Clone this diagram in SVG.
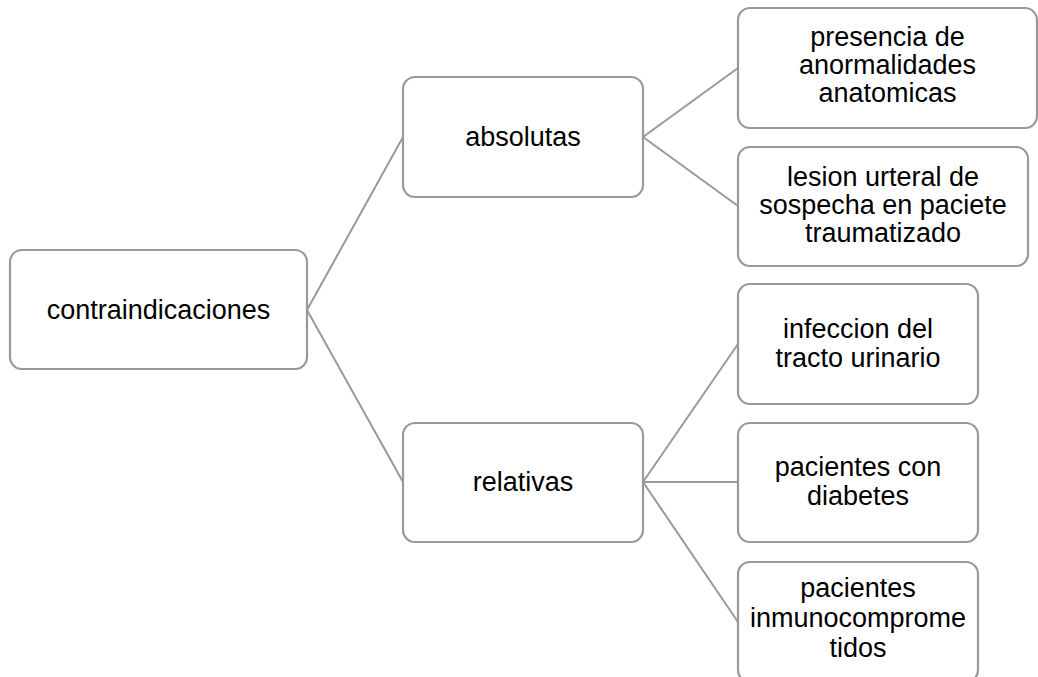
<svg xmlns="http://www.w3.org/2000/svg" width="1038" height="677" viewBox="0 0 1038 677">
  <style>
    .box { fill: #ffffff; stroke: #999999; stroke-width: 2.2; }
    .link { stroke: #999999; stroke-width: 2; fill: none; }
    .lbl { font-family: "Liberation Sans", Arial, sans-serif; font-size: 27px; fill: #000000; text-anchor: middle; }
  </style>
  <rect width="1038" height="677" fill="#ffffff"/>

  <g id="connectors">
    <line class="link" x1="307" y1="310" x2="403" y2="137"/>
    <line class="link" x1="307" y1="310" x2="403" y2="482"/>
    <line class="link" x1="643" y1="137" x2="738" y2="68"/>
    <line class="link" x1="643" y1="137" x2="738" y2="206"/>
    <line class="link" x1="643" y1="482" x2="738" y2="344"/>
    <line class="link" x1="643" y1="482" x2="738" y2="482"/>
    <line class="link" x1="643" y1="482" x2="738" y2="622"/>
  </g>

  <g id="contraindicaciones">
    <rect class="box" x="10" y="250" width="297" height="119" rx="12"/>
    <text class="lbl" x="158.5" y="319">contraindicaciones</text>
  </g>

  <g id="absolutas">
    <rect class="box" x="403" y="77" width="240" height="120" rx="12"/>
    <text class="lbl" x="523" y="146">absolutas</text>
  </g>

  <g id="relativas">
    <rect class="box" x="403" y="423" width="240" height="119" rx="12"/>
    <text class="lbl" x="523" y="491">relativas</text>
  </g>

  <g id="anormalidades">
    <rect class="box" x="738" y="8" width="299" height="120" rx="12"/>
    <text class="lbl" x="887.5" y="46">presencia de</text>
    <text class="lbl" x="887.5" y="74">anormalidades</text>
    <text class="lbl" x="887.5" y="102">anatomicas</text>
  </g>

  <g id="lesion">
    <rect class="box" x="738" y="147" width="290" height="119" rx="12"/>
    <text class="lbl" x="883" y="186">lesion urteral de</text>
    <text class="lbl" x="883" y="214">sospecha en paciete</text>
    <text class="lbl" x="883" y="242">traumatizado</text>
  </g>

  <g id="infeccion">
    <rect class="box" x="738" y="284" width="240" height="120" rx="12"/>
    <text class="lbl" x="858" y="338">infeccion del</text>
    <text class="lbl" x="858" y="367">tracto urinario</text>
  </g>

  <g id="diabetes">
    <rect class="box" x="738" y="423" width="240" height="119" rx="12"/>
    <text class="lbl" x="858" y="476">pacientes con</text>
    <text class="lbl" x="858" y="505">diabetes</text>
  </g>

  <g id="inmunocomprometidos">
    <rect class="box" x="738" y="562" width="240" height="120" rx="12"/>
    <text class="lbl" x="858" y="597">pacientes</text>
    <text class="lbl" x="858" y="627">inmunocomprome</text>
    <text class="lbl" x="858" y="657">tidos</text>
  </g>
</svg>
